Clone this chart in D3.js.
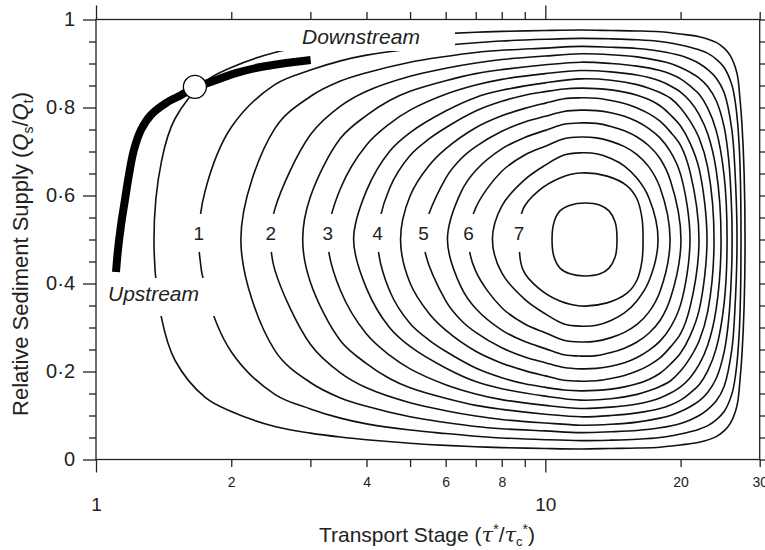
<!DOCTYPE html>
<html><head><meta charset="utf-8">
<script src="https://cdn.jsdelivr.net/npm/d3@7"></script>
<style>
body{margin:0;background:#fff}
svg{display:block}
text{font-family:"Liberation Sans",Arial,Helvetica,sans-serif;fill:#222}
</style>
</head><body>
<svg id="chart" width="765" height="550"></svg>
<script>
// ---------- data ----------
const xTicksMajor = [1, 10];
const xTicksMinor = [2, 3, 4, 5, 6, 7, 8, 9, 20, 30];
const xMinorLabelled = [2, 4, 6, 8, 20, 30];
const yTicksMajor = [0, 0.2, 0.4, 0.6, 0.8, 1];
const yTicksMinor = [0.05,0.1,0.15,0.25,0.3,0.35,0.45,0.5,0.55,0.65,0.7,0.75,0.85,0.9,0.95];

// contour levels (every 0.5), upper halves [transport stage, relative supply]; lower half mirrors about 0.5
const levels = [0.5,1,1.5,2,2.5,3,3.5,4,4.5,5,5.5,6,6.5,7,7.5];
const c05 = [[1.346,0.5],[1.4,0.680],[1.5,0.775],[1.75,0.859],[2,0.891],[2.5,0.925],[3,0.940],[3.5,0.949],[4,0.955],[5,0.963],[6,0.968],[7,0.971],[8,0.973],[10,0.975],[12,0.976],[14,0.975],[16,0.974],[18,0.972],[20,0.967],[22,0.961],[24,0.948],[25,0.935],[25.8,0.918],[26.7,0.878],[27.13,0.817],[27.4,0.76],[27.7,0.65],[27.83,0.5]];
const c10 = [[1.694,0.5],[1.75,0.611],[2,0.755],[2.5,0.852],[3,0.885],[3.5,0.906],[4,0.919],[5,0.933],[6,0.941],[7,0.947],[8,0.951],[10,0.955],[12,0.957],[14,0.956],[16,0.954],[18,0.950],[20,0.942],[21,0.937],[22,0.931],[23,0.923],[24,0.910],[25,0.891],[26,0.852],[26.5,0.809],[27,0.715],[27.26,0.5]];
const c15 = [[2.101,0.5],[2.5,0.752],[3,0.825],[3.5,0.860],[4,0.879],[5,0.903],[6,0.916],[7,0.925],[8,0.930],[10,0.935],[12,0.939],[14,0.937],[16,0.934],[18,0.928],[20,0.918],[21,0.910],[22,0.900],[23,0.886],[24,0.867],[25,0.834],[26,0.751],[26.4,0.666],[26.71,0.5]];
const c20 = [[2.448,0.5],[2.5,0.569],[3,0.738],[3.5,0.803],[4,0.837],[5,0.871],[6,0.889],[7,0.901],[8,0.909],[10,0.917],[12,0.922],[14,0.920],[16,0.915],[18,0.906],[19,0.900],[20,0.891],[21,0.880],[22,0.867],[23,0.847],[24,0.816],[25,0.756],[25.6,0.680],[26,0.557],[26.04,0.5]];
const c25 = [[2.884,0.5],[3,0.597],[3.5,0.730],[4,0.782],[4.5,0.816],[5,0.837],[6,0.861],[7,0.877],[8,0.886],[10,0.897],[12,0.903],[14,0.900],[16,0.894],[18,0.884],[19,0.876],[20,0.865],[21,0.849],[22,0.830],[23,0.798],[24,0.748],[25,0.645],[25.38,0.5]];
const c30 = [[3.279,0.5],[3.5,0.616],[4,0.715],[4.5,0.763],[5,0.794],[6,0.830],[7,0.851],[8,0.864],[10,0.877],[12,0.884],[14,0.881],[16,0.874],[17,0.868],[18,0.860],[19,0.849],[20,0.835],[21,0.814],[22,0.784],[23,0.739],[24,0.658],[24.61,0.5]];
const c35 = [[3.744,0.5],[4,0.611],[4.5,0.700],[5,0.743],[6,0.792],[7,0.823],[8,0.839],[10,0.856],[12,0.865],[14,0.862],[16,0.852],[17,0.844],[18,0.834],[19,0.821],[20,0.799],[21,0.769],[22,0.730],[23,0.662],[23.74,0.5]];
const c40 = [[4.234,0.5],[4.5,0.616],[5,0.691],[5.5,0.728],[6,0.754],[7,0.792],[8,0.814],[9,0.828],[10,0.836],[11,0.842],[12,0.844],[13,0.843],[14,0.840],[15,0.835],[16,0.828],[17,0.818],[18,0.804],[19,0.783],[20,0.758],[21,0.719],[22,0.660],[22.9,0.5]];
const c45 = [[4.762,0.5],[5,0.599],[5.5,0.667],[6,0.706],[7,0.754],[8,0.781],[9,0.798],[10,0.810],[11,0.820],[12,0.822],[13,0.821],[14,0.816],[15,0.809],[16,0.799],[17,0.786],[18,0.769],[19,0.744],[20,0.714],[21,0.653],[21.98,0.5]];
const c50 = [[5.356,0.5],[6,0.639],[6.5,0.684],[7,0.711],[8,0.746],[9,0.767],[10,0.780],[11,0.791],[12,0.794],[13,0.793],[14,0.788],[15,0.780],[16,0.768],[17,0.752],[18,0.731],[19,0.699],[20,0.648],[20.99,0.5]];
const c55 = [[6.056,0.5],[6.5,0.609],[7,0.657],[8,0.706],[9,0.732],[10,0.748],[11,0.762],[12,0.765],[13,0.764],[14,0.757],[15,0.747],[16,0.733],[17,0.713],[18,0.684],[19,0.633],[20.04,0.5]];
const c60 = [[6.745,0.5],[7,0.572],[8,0.655],[9,0.692],[10,0.712],[11,0.729],[12,0.733],[13,0.731],[14,0.723],[15,0.711],[16,0.693],[17,0.665],[18,0.618],[18.95,0.5]];
const c65 = [[7.625,0.5],[8,0.576],[9,0.636],[10,0.669],[11,0.692],[12,0.697],[13,0.695],[14,0.684],[15,0.667],[16,0.639],[17,0.595],[17.82,0.5]];
const c70 = [[8.74,0.5],[8.92,0.569],[9.64,0.610],[10.78,0.640],[11.95,0.651],[13.72,0.644],[15.2,0.622],[16.0,0.592],[16.42,0.547],[16.5,0.5]];
const c75 = [[10.35,0.5],[10.46,0.540],[10.78,0.565],[11.35,0.578],[12.26,0.583],[13.24,0.578],[13.86,0.565],[14.30,0.540],[14.44,0.5]];

// contour labels
const labelText = ["1","2","3","4","5","6","7"];
const labelX = [1.694, 2.448, 3.279, 4.234, 5.356, 6.745, 8.74];
const labelY = 0.515;

// thick reach trajectory (upstream -> downstream)
const pathX = [1.108,1.119,1.137,1.160,1.184,1.214,1.259,1.325,1.431,1.545,1.651,1.801,2.047,2.326,2.644,3.004];
const pathY = [0.426,0.476,0.533,0.590,0.647,0.703,0.749,0.783,0.810,0.828,0.844,0.858,0.878,0.892,0.901,0.908];
const markerX = [1.66];
const markerY = [0.847];

// ---------- drawing ----------
const svg = d3.select("#chart");
const x = d3.scaleLog().domain([1,30]).range([96,759.7]);
const y = d3.scaleLinear().domain([0,1]).range([459.5,19.5]);

const contourHalves = [c05,c10,c15,c20,c25,c30,c35,c40,c45,c50,c55,c60,c65,c70,c75];
const loopLine = d3.line().x(d=>x(d[0])).y(d=>y(d[1])).curve(d3.curveCatmullRomClosed.alpha(0.5));
function fullLoop(half){
  const lower = half.slice(1,-1).reverse().map(p=>[p[0],1-p[1]]);
  return half.concat(lower);
}
const gC = svg.append("g");
contourHalves.forEach((h,i)=>{
  gC.append("path").attr("d",loopLine(fullLoop(h)))
    .attr("fill","none").attr("stroke","#111").attr("stroke-width",1.6)
    .attr("data-level",levels[i]);
});

// white boxes behind annotations
svg.append("rect").attr("x",104).attr("y",278).attr("width",122).attr("height",38).attr("fill","#fff");
svg.append("rect").attr("x",277).attr("y",20.5).attr("width",178).attr("height",30.5).attr("fill","#fff");

// contour labels
const gL = svg.append("g");
labelText.forEach((t,i)=>{
  const cx = x(labelX[i]), cy = y(labelY);
  gL.append("rect").attr("x",cx-8).attr("y",cy-19).attr("width",16).attr("height",38).attr("fill","#fff");
  gL.append("text").attr("x",cx).attr("y",cy).attr("dy","0.36em").attr("text-anchor","middle")
    .attr("font-size",19).text(t);
});

// thick trajectory
const pathLine = d3.line().x(d=>x(d[0])).y(d=>y(d[1])).curve(d3.curveCatmullRom.alpha(0.5));
svg.append("path").attr("d",pathLine(pathX.map((v,i)=>[v,pathY[i]])))
  .attr("fill","none").attr("stroke","#000").attr("stroke-width",8).attr("stroke-linecap","butt");
svg.selectAll("circle.marker").data(markerX).join("circle").attr("class","marker")
  .attr("cx",(d,i)=>x(d)).attr("cy",(d,i)=>y(markerY[i])).attr("r",11.5)
  .attr("fill","#fff").attr("stroke","#000").attr("stroke-width",1.3);

// annotations
svg.append("text").attr("x",302).attr("y",44).attr("font-size",21).attr("font-style","italic").text("Downstream");
svg.append("text").attr("x",108).attr("y",301).attr("font-size",21).attr("font-style","italic").text("Upstream");

// ---------- axes ----------
const axisColor = "#222";
function style(g){
  g.select(".domain").remove();
  g.selectAll(".tick line").attr("stroke",axisColor).attr("stroke-width",1.3);
  g.selectAll(".tick text").attr("fill","#222");
}
// bottom
svg.append("g").attr("transform",`translate(0,${y(0)})`)
  .call(d3.axisBottom(x).tickValues(xTicksMinor).tickSize(7.5).tickPadding(10)
    .tickFormat(d=>xMinorLabelled.includes(d)?String(d):""))
  .call(style).call(g=>g.selectAll("text").attr("font-size",14).attr("font-family","Liberation Sans, Arial"));
svg.append("g").attr("transform",`translate(0,${y(0)})`)
  .call(d3.axisBottom(x).tickValues(xTicksMajor).tickSize(13).tickPadding(25).tickFormat(d=>String(d)))
  .call(style).call(g=>g.selectAll("text").attr("font-size",19).attr("font-family","Liberation Sans, Arial"));
// top
svg.append("g").attr("transform",`translate(0,${y(1)})`)
  .call(d3.axisTop(x).tickValues(xTicksMinor).tickSize(7.5).tickFormat(""))
  .call(style);
svg.append("g").attr("transform",`translate(0,${y(1)})`)
  .call(d3.axisTop(x).tickValues(xTicksMajor).tickSize(14).tickFormat(""))
  .call(style);
// left
const yFmt = d=> d===0?"0":(d===1?"1":d3.format(".1f")(d).replace(".","\u00B7"));
svg.append("g").attr("transform",`translate(${x(1)},0)`)
  .call(d3.axisLeft(y).tickValues(yTicksMinor).tickSize(7).tickFormat(""))
  .call(style);
svg.append("g").attr("transform",`translate(${x(1)},0)`)
  .call(d3.axisLeft(y).tickValues(yTicksMajor).tickSize(13).tickPadding(8).tickFormat(yFmt))
  .call(style).call(g=>g.selectAll("text").attr("font-size",20).attr("font-family","Liberation Sans, Arial"));
// right
svg.append("g").attr("transform",`translate(${x(30)},0)`)
  .call(d3.axisRight(y).tickValues(yTicksMinor).tickSize(7).tickFormat(""))
  .call(style);
svg.append("g").attr("transform",`translate(${x(30)},0)`)
  .call(d3.axisRight(y).tickValues(yTicksMajor).tickSize(13).tickFormat(""))
  .call(style);
// frame
svg.append("rect").attr("x",x(1)).attr("y",y(1)).attr("width",x(30)-x(1)).attr("height",y(0)-y(1))
  .attr("fill","none").attr("stroke",axisColor).attr("stroke-width",1.3);

// axis titles
const xt = svg.append("text").attr("x",427).attr("y",542).attr("text-anchor","middle").attr("font-size",21);
xt.append("tspan").text("Transport Stage (");
xt.append("tspan").attr("font-style","italic").attr("font-family","DejaVu Serif, serif").text("\u03C4");
xt.append("tspan").attr("dy",-8).attr("font-size",14).text("*");
xt.append("tspan").attr("dy",8).text("/");
xt.append("tspan").attr("font-style","italic").attr("font-family","DejaVu Serif, serif").text("\u03C4");
xt.append("tspan").attr("dy",4).attr("font-size",13).text("c");
xt.append("tspan").attr("dy",-12).attr("font-size",14).text("*");
xt.append("tspan").attr("dy",8).text(")");

const yt = svg.append("text").attr("transform","translate(28,254) rotate(-90)").attr("text-anchor","middle").attr("font-size",22);
yt.append("tspan").text("Relative Sediment Supply (");
yt.append("tspan").attr("font-style","italic").text("Q");
yt.append("tspan").attr("dy",5).attr("font-size",14).text("s");
yt.append("tspan").attr("dy",-5).text("/");
yt.append("tspan").attr("font-style","italic").text("Q");
yt.append("tspan").attr("dy",5).attr("font-size",14).text("t");
yt.append("tspan").attr("dy",-5).text(")");
</script>
</body></html>
